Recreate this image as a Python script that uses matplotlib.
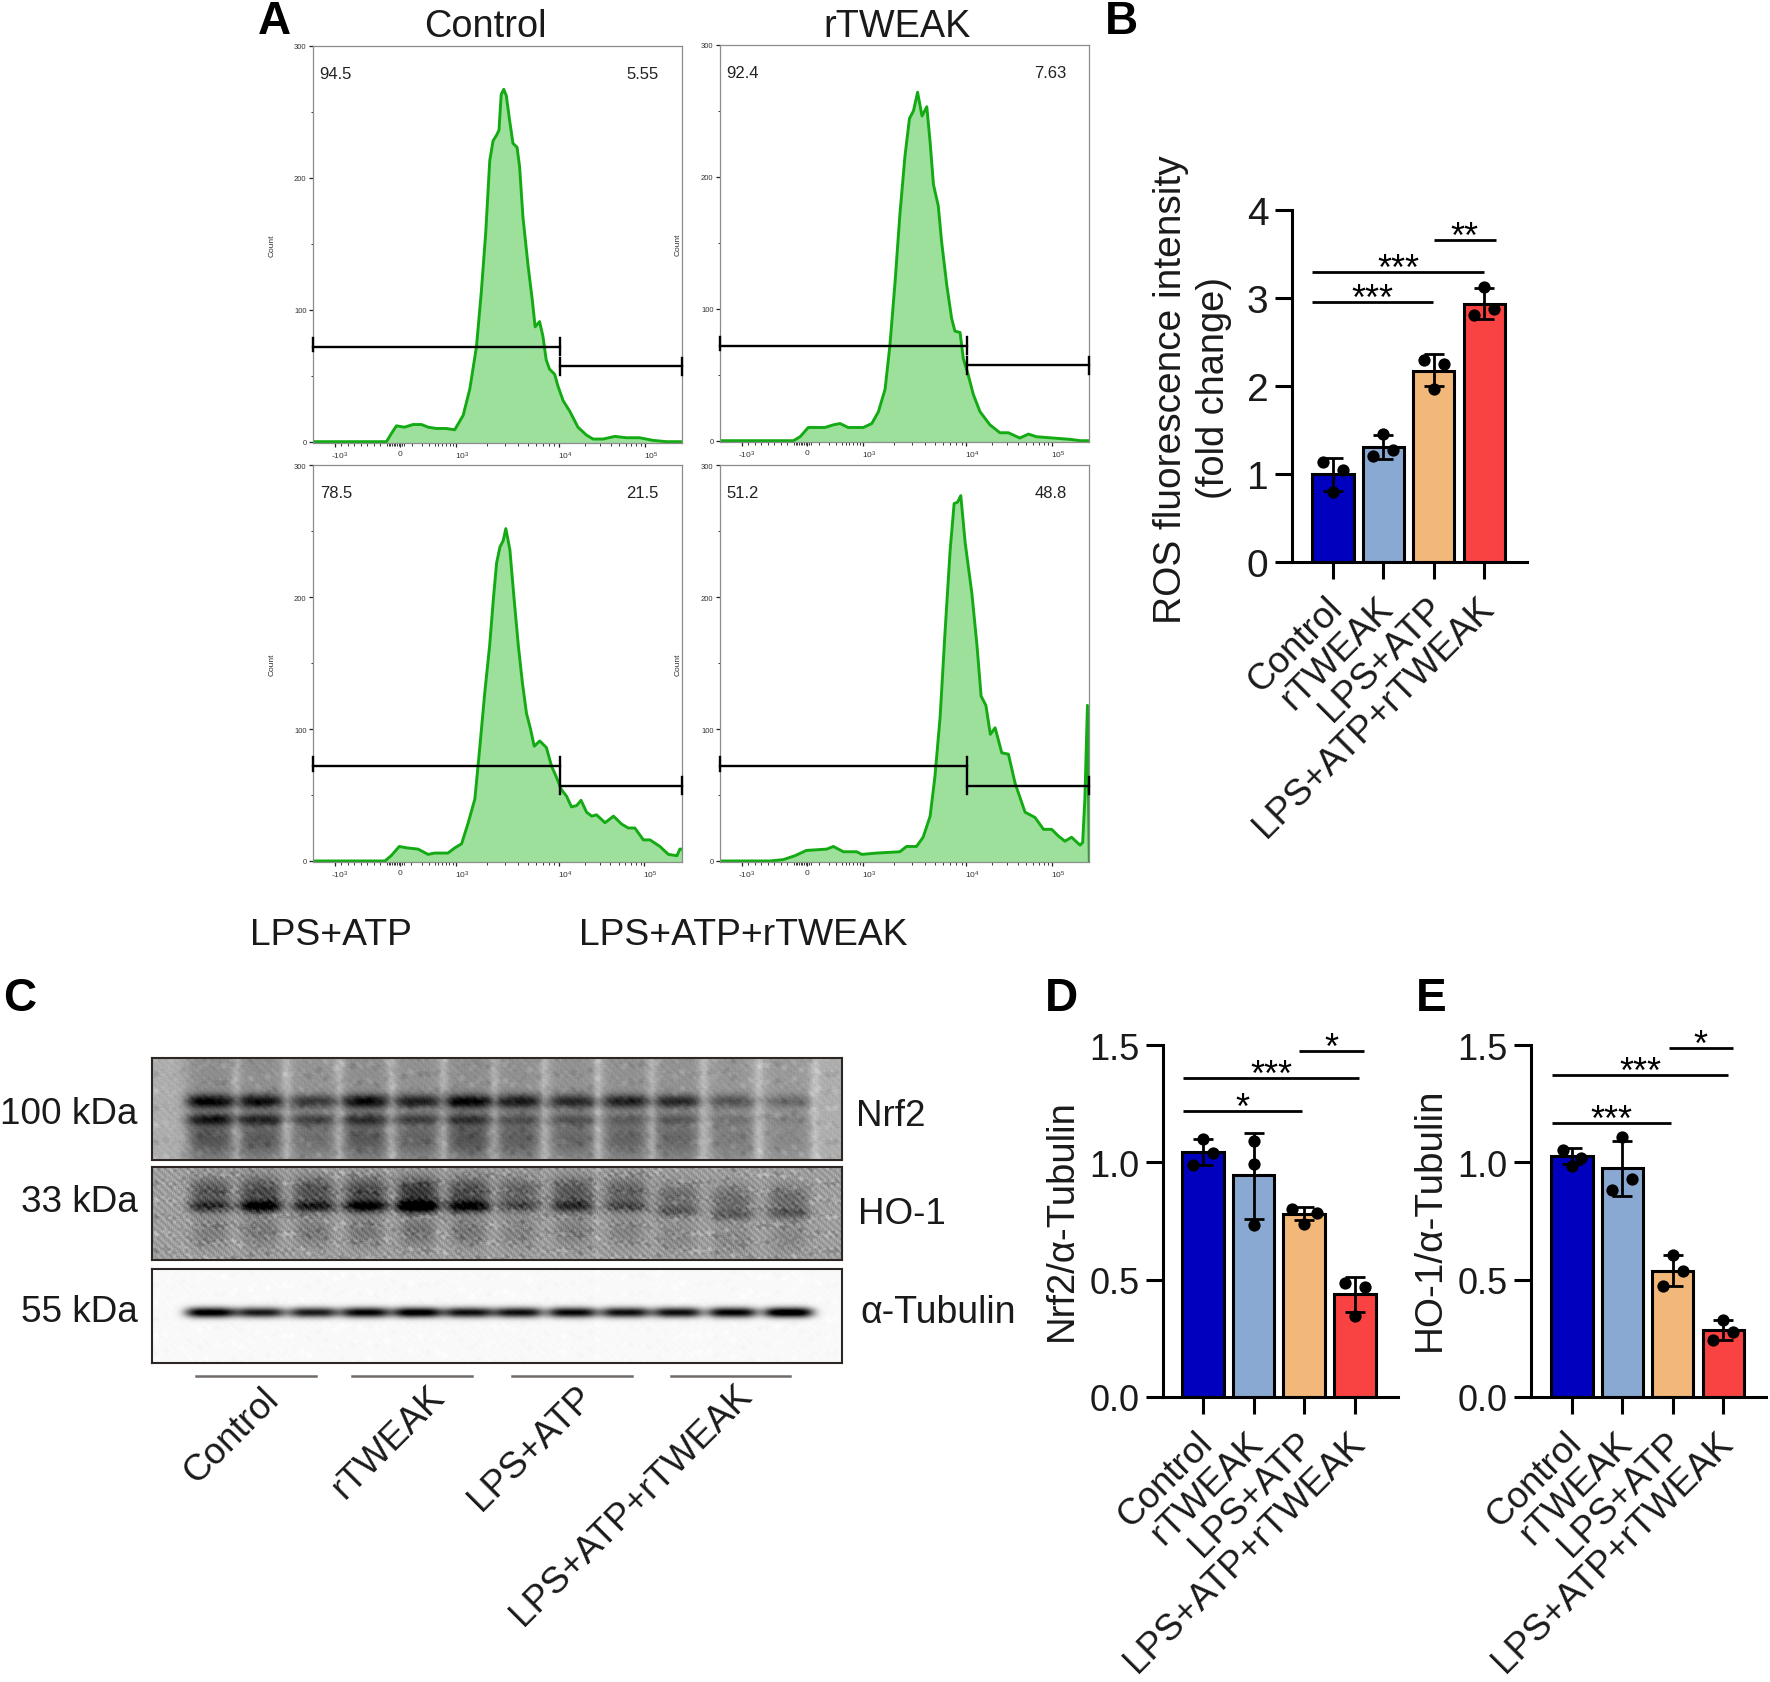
import numpy as np
import matplotlib
matplotlib.use("Agg")
import matplotlib.pyplot as plt
from matplotlib.transforms import ScaledTranslation

# =========================
# CONFIG
# =========================
W, H = 1770, 1683
plt.rcParams["font.family"] = ["Liberation Sans", "DejaVu Sans"]
plt.rcParams["mathtext.default"] = "regular"

TEXT_COLOR = "#1a1a1a"
BAR_COLORS = ["#0000be", "#8aa9d2", "#f2b87a", "#f94242"]
GROUPS = ["Control", "rTWEAK", "LPS+ATP", "LPS+ATP+rTWEAK"]

# =========================
# DATA - flow histograms (x is % of the display axis, y is count)
# =========================
control_x = [0, 19.9, 21.2, 22.6, 24.8, 27.1, 29.4, 31.2, 33.4, 36.1, 38.4, 40.7, 42.5, 44.3, 45.6, 46.8, 47.9, 48.8,
             49.7, 50.4, 51.0, 51.7, 52.4, 53.3, 54.2, 55.3, 56.0, 56.9, 58.3, 59.4, 60.2, 61.4, 62.3, 63.2, 64.1,
             65.5, 66.4, 67.8, 69.6, 71.8, 74.1, 75.9, 78.6, 81.8, 84.9, 88.5, 92.1, 95.8, 100]
control_y = [0, 0, 6, 12, 11, 13, 13, 11, 10, 10, 9, 20, 40, 72, 113, 158, 213, 228, 232, 236, 263, 267, 262, 243, 226,
             223, 208, 170, 133, 108, 87, 91, 80, 62, 55, 51, 42, 31, 23, 11, 5, 2, 2, 4, 3, 3, 1, 0, 0]

rtweak_x = [0, 19.9, 21.7, 23.9, 26.6, 28.4, 30.7, 32.5, 34.7, 38.8, 41.1, 42.9, 44.7, 46.0, 47.4, 48.7, 50.1, 51.3,
            52.4, 53.5, 54.7, 56.0, 56.9, 57.8, 59.1, 60.0, 61.4, 62.7, 63.6, 65.0, 65.9, 67.2, 68.6, 70.4, 73.1,
            75.8, 78.1, 81.2, 83.5, 85.7, 90.3, 94.8, 97.5, 100]
rtweak_y = [0, 0, 3, 10, 10, 10, 12, 13, 10, 10, 13, 22, 39, 72, 120, 171, 216, 244, 250, 264, 246, 253, 226, 194, 178,
            151, 118, 93, 83, 82, 62, 50, 35, 22, 12, 6, 6, 2, 5, 3, 2, 1, 0, 0]

lps_x = [0, 19.5, 21.2, 23.4, 25.3, 28.5, 31.2, 33.0, 36.6, 38.5, 40.3, 42.1, 43.9, 45.2, 46.6, 47.9, 48.9, 49.8, 50.7,
         51.6, 52.3, 53.4, 54.5, 55.7, 56.8, 57.9, 59.0, 60.0, 61.5, 63.3, 64.7, 66.1, 67.4, 68.8, 70.1, 71.5, 72.7,
         74.2, 75.6, 76.9, 79.2, 81.5, 83.7, 85.5, 87.3, 89.6, 91.4, 94.1, 96.4, 98.7, 99.5, 100]
lps_y = [0, 0, 4, 11, 10, 9, 5, 6, 6, 10, 13, 29, 47, 85, 128, 163, 198, 226, 238, 243, 252, 236, 200, 163, 135, 112,
         100, 87, 91, 86, 72, 63, 54, 49, 41, 42, 46, 37, 34, 35, 29, 34, 28, 25, 25, 16, 16, 11, 5, 4, 9, 9]

lps_rt_x = [0, 13.5, 17.1, 20.3, 23.4, 28.9, 30.7, 33.4, 37.0, 38.4, 42.4, 48.7, 50.5, 53.2, 55.0, 56.9, 58.2, 59.6,
            60.9, 62.3, 63.4, 64.3, 65.2, 66.4, 68.2, 69.6, 70.7, 72.0, 73.2, 74.5, 76.3, 78.1, 79.9, 82.6, 85.3,
            87.6, 89.8, 91.6, 93.4, 95.2, 97.5, 98.2, 98.8, 99.5, 100]
lps_rt_y = [0, 0, 1, 4, 8, 9, 11, 7, 7, 5, 6, 7, 11, 11, 18, 34, 64, 109, 172, 235, 271, 272, 277, 241, 203, 163, 125,
            118, 96, 101, 82, 81, 59, 37, 33, 24, 24, 19, 15, 18, 12, 14, 47, 118, 0]

flow_left_pct = ["94.5", "92.4", "78.5", "51.2"]
flow_right_pct = ["5.55", "7.63", "21.5", "48.8"]
flow_ticks_x = [5.9, 23.5, 38.8, 66.7, 89.9]
flow_ticklabels_x = ["-10$^3$", "0", "10$^3$", "10$^4$", "10$^5$"]
flow_ticks_y = [0, 100, 200, 300]
gate_low = [0, 67.0]
gate_high = [67.0, 100]
gate_low_y = 72
gate_high_y = 57

# =========================
# DATA - bar panels
# =========================
ros_means = [1.0, 1.31, 2.17, 2.93]
ros_points = [[1.14, 1.04, 0.80], [1.21, 1.27, 1.455], [2.30, 2.25, 1.97], [2.81, 2.87, 3.13]]
ros_err_lo = [0.81, 1.165, 2.0, 2.76]
ros_err_hi = [1.18, 1.44, 2.36, 3.11]
ros_sig = [(-0.41, 1.98, 2.95, "***"), (-0.41, 3.0, 3.30, "***"), (2.0, 3.23, 3.66, "**")]

nrf2_means = [1.046, 0.947, 0.778, 0.44]
nrf2_points = [[0.99, 1.04, 1.10], [1.09, 0.995, 0.734], [0.80, 0.784, 0.737], [0.486, 0.47, 0.347]]
nrf2_err_lo = [0.99, 0.76, 0.756, 0.364]
nrf2_err_hi = [1.10, 1.124, 0.808, 0.512]
nrf2_sig = [(-0.39, 1.95, 1.22, "*"), (-0.39, 3.09, 1.358, "***"), (1.90, 3.18, 1.473, "*")]

ho1_means = [1.028, 0.975, 0.539, 0.286]
ho1_points = [[1.053, 1.02, 0.985], [0.88, 0.93, 1.11], [0.472, 0.539, 0.603], [0.241, 0.279, 0.326]]
ho1_err_lo = [0.992, 0.855, 0.475, 0.241]
ho1_err_hi = [1.06, 1.09, 0.605, 0.326]
ho1_sig = [(-0.39, 1.96, 1.168, "***"), (-0.39, 3.09, 1.371, "***"), (1.92, 3.19, 1.486, "*")]

spread = [-0.2, 0.2, 0.0]
no_spread = [0.0, 0.0, 0.0]

# =========================
# DATA - blots (relative band strength per lane)
# =========================
lane_centres = [58, 108, 161, 213, 265, 316, 366, 420, 473, 525, 580, 636]
nrf2_upper = [0.95, 0.85, 0.60, 0.90, 0.75, 0.95, 0.80, 0.70, 0.75, 0.70, 0.45, 0.30]
nrf2_lower = [0.85, 0.75, 0.55, 0.65, 0.55, 0.60, 0.40, 0.40, 0.30, 0.35, 0.22, 0.12]
ho1_band = [0.70, 0.85, 0.75, 0.85, 1.00, 0.85, 0.60, 0.70, 0.60, 0.50, 0.50, 0.50]
ho1_band_y = [39, 39, 39, 39, 39, 39, 39, 39, 39, 44, 47, 46]
tub_band = [0.95, 0.80, 0.80, 0.90, 0.95, 0.85, 0.85, 0.88, 0.85, 0.85, 0.90, 1.00]


# =========================
# HELPERS
# =========================
fig = plt.figure(figsize=(W / 100, H / 100), dpi=100, facecolor="white")


def px_axes(left, top, right, bottom):
    return fig.add_axes([left / W, 1 - bottom / H, (right - left) / W, (bottom - top) / H])


def px_text(x, y, s, **kw):
    kw.setdefault("color", TEXT_COLOR)
    kw.setdefault("ha", "center")
    kw.setdefault("va", "center")
    fig.text(x / W, 1 - y / H, s, **kw)


def nudge(label, dx_px, dy_px=0):
    # shift a tick label by screen pixels
    label.set_transform(label.get_transform() + ScaledTranslation(dx_px / 100, dy_px / 100, fig.dpi_scale_trans))


def flow_panel(rect, xs, ys, left_pct, right_pct, count_x):
    ax = px_axes(*rect)
    ax.fill_between(xs, ys, -1, color="#9ce09c", lw=0, zorder=1)
    ax.plot(xs, ys, color="#14aa14", lw=2.1, zorder=2, solid_joinstyle="round")
    ax.set_xlim(0, 100)
    ax.set_ylim(-1, 298.5)

    # gates
    for (x0, x1), gy in zip([gate_low, gate_high], [gate_low_y, gate_high_y]):
        ax.plot([x0, x1], [gy, gy], color="black", lw=1.7, zorder=3, clip_on=False)
        ax.plot([x1, x1], [gy - 6.5, gy + 6.5], color="black", lw=1.7, zorder=3, clip_on=False)
        ax.plot([x0, x0], [gy - 6.5 if x0 else gy - 3.5, gy + 6.5], color="black", lw=1.7, zorder=3, clip_on=False)

    for s in ax.spines.values():
        s.set_color("#8c8c8c")
        s.set_linewidth(0.9)
    ax.set_xticks(flow_ticks_x)
    ax.set_xticklabels(flow_ticklabels_x, fontsize=6, color="#333333")
    ax.set_yticks(flow_ticks_y)
    ax.set_yticklabels(flow_ticks_y, fontsize=5.5, color="#333333")
    near_zero = list(np.arange(20.5, 24.6, 0.45))
    linear_neg = list(np.arange(5.9, 20.5, 1.76))
    low_log = [26.7, 29.5, 31.5, 33, 34, 35, 36, 37, 38]
    decade_1 = [38.8 + 27.9 * np.log10(k) for k in range(2, 10)]
    decade_2 = [66.7 + 23.2 * np.log10(k) for k in range(2, 10)]
    ax.set_xticks(near_zero + linear_neg + low_log + decade_1 + decade_2, minor=True)
    ax.set_yticks([50, 150, 250], minor=True)
    ax.tick_params(axis="both", which="major", length=3.2, width=0.9, pad=1.5, color="#222222")
    ax.tick_params(axis="both", which="minor", length=1.8, width=0.7, color="#333333")
    for tl, dx in zip(ax.get_xticklabels(), [5, 0, 6, 6, 6]):
        nudge(tl, dx)
    ax.text(1.8, 279, left_pct, fontsize=12, ha="left", va="center", color="#222222")
    ax.text(93.8, 279, right_pct, fontsize=12, ha="right", va="center", color="#222222")
    ymid = (rect[1] + rect[3]) / 2
    px_text(count_x, ymid, "Count", fontsize=6, rotation=90, color="#333333")


def bar_panel(rect, x0, step, ymax, yticks, yticklabels, means, points, err_lo, err_hi, sig, jitter, tick_fs):
    ax = px_axes(*rect)
    xpos = np.arange(len(means))
    ax.bar(xpos, means, width=0.82, color=BAR_COLORS, edgecolor="black", linewidth=2.2, zorder=2)
    for i, m in enumerate(means):
        ax.errorbar(i, m, yerr=[[m - err_lo[i]], [err_hi[i] - m]], color="black", capsize=7.5, elinewidth=2.0,
                    capthick=2.0, zorder=4, clip_on=False)
        ax.scatter(i + np.array(jitter[i]), points[i], s=78, color="black", zorder=5, clip_on=False, linewidths=0)

    ax.set_xlim((rect[0] - x0) / step, (rect[2] - x0) / step)
    ax.set_ylim(0, ymax)
    for s in ["top", "right"]:
        ax.spines[s].set_visible(False)
    for s in ["left", "bottom"]:
        ax.spines[s].set_linewidth(2.2)
    ax.set_yticks(yticks)
    ax.set_yticklabels(yticklabels, fontsize=tick_fs, color=TEXT_COLOR)
    ax.set_xticks(xpos)
    ax.set_xticklabels(GROUPS, fontsize=26.5, rotation=45, ha="right", va="top", rotation_mode="anchor", color=TEXT_COLOR)
    ax.tick_params(axis="both", length=12, width=2.2)
    ax.tick_params(axis="y", pad=5)
    ax.tick_params(axis="x", pad=8)
    for tl in ax.get_xticklabels():
        nudge(tl, -8)

    for xa, xb, yy, stars in sig:
        ax.plot([xa, xb], [yy, yy], color="black", lw=2.0, zorder=3, solid_capstyle="butt", clip_on=False)
        ax.annotate(stars, ((xa + xb) / 2, yy), xytext=(0, -5), textcoords="offset points", ha="center",
                    va="baseline", fontsize=26, color="black", annotation_clip=False)
    return ax


def texture(X, Y, k=3):
    # fixed interference pattern, box blurred, used as film grain only
    a = np.sin(1.73 * X + 2.31 * Y) * np.sin(0.91 * X - 3.07 * Y)
    b = np.sin(0.37 * X * Y + 0.61 * X) * np.cos(0.023 * X * X + 1.3 * Y)
    t = 0.6 * a + 0.8 * b
    kern = np.ones(k) / k
    t = np.apply_along_axis(lambda r: np.convolve(r, kern, mode="same"), 0, t)
    t = np.apply_along_axis(lambda r: np.convolve(r, kern, mode="same"), 1, t)
    return t / t.std() * 0.5


def blot_axes(rect, img):
    ax = px_axes(*rect)
    ax.imshow(np.clip(img, 0, 1), cmap="gray", vmin=0, vmax=1, aspect="auto", interpolation="bicubic")
    ax.set_xticks([])
    ax.set_yticks([])
    for s in ax.spines.values():
        s.set_color("#2e2623")
        s.set_linewidth(1.5)
    return ax


def lane(X, c, wx):
    return np.exp(-np.abs((X - c) / wx) ** 4)


def band(Y, y0, wy):
    return np.exp(-((Y - y0) / wy) ** 2)


# =========================
# PANEL A - flow histograms
# =========================
flow_panel((313, 46.7, 682, 444), control_x, control_y, flow_left_pct[0], flow_right_pct[0], 272)
flow_panel((720, 45.7, 1089.3, 443), rtweak_x, rtweak_y, flow_left_pct[1], flow_right_pct[1], 678)
flow_panel((313, 466.3, 681.7, 863.3), lps_x, lps_y, flow_left_pct[2], flow_right_pct[2], 272)
flow_panel((720, 466.3, 1089.3, 863.3), lps_rt_x, lps_rt_y, flow_left_pct[3], flow_right_pct[3], 678)

px_text(485, 27, "Control", fontsize=27.3)
px_text(897, 27, "rTWEAK", fontsize=27.3)
px_text(331, 936, "LPS+ATP", fontsize=26.8)
px_text(743, 936, "LPS+ATP+rTWEAK", fontsize=26.8)

# =========================
# PANELS B, D, E - bars
# =========================
bar_panel((1292, 211, 1527, 563), 1333, 50.4, 4, [0, 1, 2, 3, 4], ["0", "1", "2", "3", "4"], ros_means, ros_points,
          ros_err_lo, ros_err_hi, ros_sig, [spread] * 4, 28)
px_text(1171, 390, "ROS fluorescence intensity", fontsize=28, rotation=90)
px_text(1214, 388, "(fold change)", fontsize=27.4, rotation=90)

yt = [0, 0.5, 1.0, 1.5]
ytl = ["0.0", "0.5", "1.0", "1.5"]
bar_panel((1163, 1046, 1398, 1398), 1203, 50.6, 1.5, yt, ytl, nrf2_means, nrf2_points, nrf2_err_lo, nrf2_err_hi,
          nrf2_sig, [spread, no_spread, [-0.25, 0.25, 0.0], spread], 26)
px_text(1062, 1220, "Nrf2/α-Tubulin", fontsize=27.5, rotation=90)

bar_panel((1531, 1046, 1766, 1398), 1572, 50.4, 1.5, yt, ytl, ho1_means, ho1_points, ho1_err_lo, ho1_err_hi,
          ho1_sig, [[-0.17, 0.17, 0.0], spread, spread, spread], 26)
px_text(1430, 1219, "HO-1/α-Tubulin", fontsize=27.8, rotation=90)

# =========================
# PANEL C - blots
# =========================
# Nrf2
w, h = 690, 102
X, Y = np.meshgrid(np.arange(w), np.arange(h))
img = 0.68 + 0.045 * texture(X, Y, 5)
for i, c in enumerate(lane_centres):
    img -= 0.13 * lane(X, c, 26) * (0.45 + 0.55 * nrf2_upper[i])
    img -= 0.60 * nrf2_upper[i] * lane(X, c, 24) * band(Y, 43, 7)
    img -= 0.50 * nrf2_lower[i] * lane(X, c, 24) * band(Y, 61, 6)
    img -= 0.24 * nrf2_upper[i] * lane(X, c, 22) * band(Y, 80, 18)
    img += 0.10 * np.exp(-((X - c - 26) / 5) ** 2)
blot_axes((152, 1059, 842, 1161), img)

# HO-1
h = 93
X, Y = np.meshgrid(np.arange(w), np.arange(h))
img = 0.62 + 0.10 * texture(X, Y, 3)
for i, c in enumerate(lane_centres):
    sharp = max(0.55, min(1.0, ho1_band[i] * 1.3 - 0.2))
    img -= 0.72 * ho1_band[i] * sharp * lane(X, c, 22) * band(Y, ho1_band_y[i], 6)
    img -= 0.40 * ho1_band[i] * lane(X, c, 21) * band(Y, ho1_band_y[i] - 15, 15)
    img -= 0.18 * ho1_band[i] * lane(X, c, 18) * band(Y, ho1_band_y[i] + 25, 16)
blot_axes((152, 1168, 842, 1261), img)

# tubulin
h = 94
X, Y = np.meshgrid(np.arange(w), np.arange(h))
img = 0.975 + 0.010 * texture(X, Y, 5)
for i, c in enumerate(lane_centres):
    img -= 1.1 * tub_band[i] * lane(X, c, 25) * band(Y, 43, 5.2)
blot_axes((152, 1270, 842, 1364), img)

px_text(138, 1115, "100 kDa", fontsize=26.6, ha="right")
px_text(138, 1203, "33 kDa", fontsize=26.6, ha="right")
px_text(138, 1313, "55 kDa", fontsize=26.6, ha="right")
px_text(856, 1117, "Nrf2", fontsize=26.5, ha="left")
px_text(858, 1214, "HO-1", fontsize=26.5, ha="left")
px_text(860, 1313, "α-Tubulin", fontsize=27, ha="left")

underlines = [(196, 316), (352, 472), (512, 632), (671, 790)]
label_ends = [(261, 1382), (427, 1380), (575, 1380), (734, 1378)]
for (xa, xb), (xe, ye), g in zip(underlines, label_ends, GROUPS):
    fig.add_artist(plt.Line2D([xa / W, xb / W], [1 - 1377 / H] * 2, color="#6f6a68", lw=1.8))
    px_text(xe, ye, g, fontsize=26.6, rotation=45, ha="right", va="top", rotation_mode="anchor")

# =========================
# PANEL LETTERS
# =========================
for s, x, y in [("A", 274, 22), ("B", 1121, 22), ("C", 20, 999), ("D", 1061, 999), ("E", 1431, 999)]:
    px_text(x, y, s, fontsize=33, fontweight="bold", color="black")

fig.savefig("out.png", dpi=100)
